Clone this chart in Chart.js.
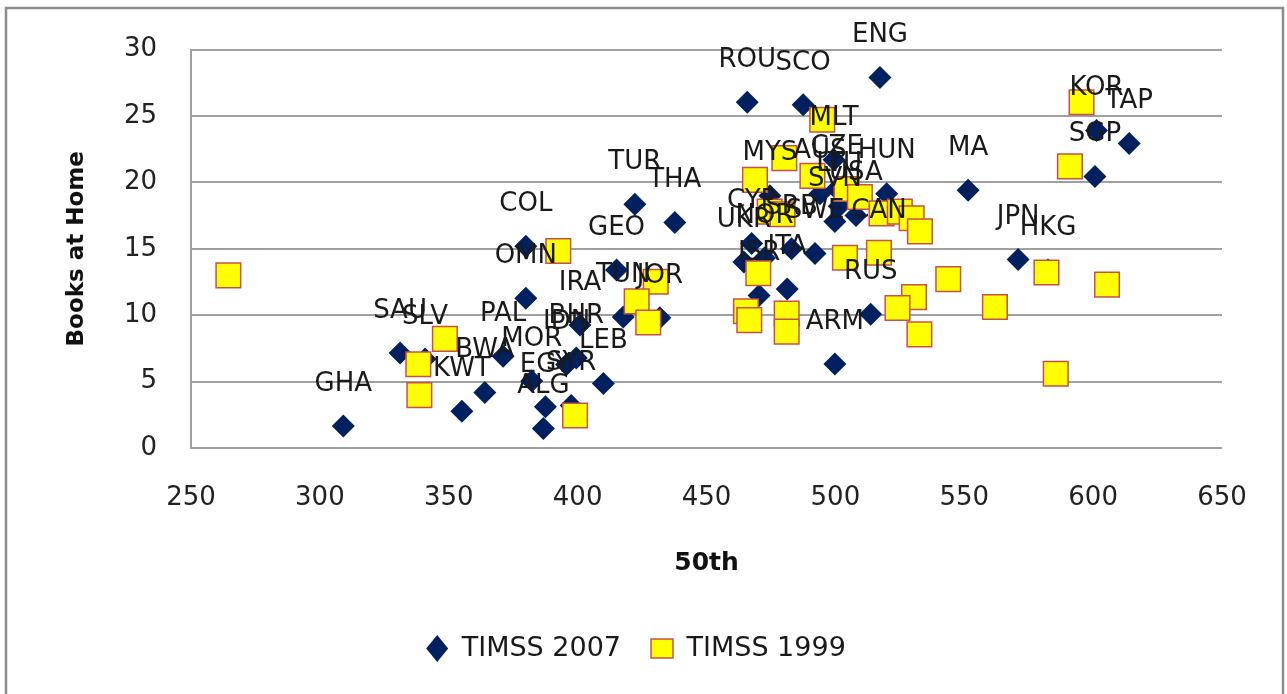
<!DOCTYPE html>
<html lang="en">

<head>
  <meta charset="UTF-8">
  <title>Books at Home vs 50th</title>
  <script src="https://cdn.jsdelivr.net/npm/chart.js@4/dist/chart.umd.min.js"></script>
  <style>
    html, body {
      margin: 0;
      padding: 0;
      background: #fff;
    }
    .plot-container {
      width: 1287px;
      height: 694px;
      position: relative;
    }
  </style>
</head>

<body>
  <div class="plot-container">
    <canvas id="plot"></canvas>
  </div>

  <script>
    // TIMSS 2007 (diamonds, labelled)
    const labels2007 = ['GHA', 'SAU', 'SLV', 'KWT', 'BWA', 'PAL', 'MOR', 'ALG', 'EGY', 'SYR',
      'IDN', 'BHR', 'IRA', 'LEB', 'COL', 'OMN', 'GEO', 'TUN', 'JOR', 'TUR',
      'THA', 'ROU', 'SCO', 'ENG', 'MLT', 'MYS', 'AUS', 'CZE', 'HUN', 'LTU',
      'USA', 'SVN', 'UKR', 'NOR', 'CYP', 'SRB', 'SWE', 'CAN', 'ISR', 'ITA',
      'ARM', 'RUS', 'JPN', 'HKG', 'MA', 'SGP', 'KOR', 'TAP'];
    const x2007 = [309.1, 331.1, 340.8, 355.1, 364.0, 371.1, 382.2, 386.7, 387.5, 397.5,
      395.7, 399.5, 400.9, 410.0, 379.9, 379.9, 415.1, 417.7, 431.9, 422.2,
      437.7, 465.8, 487.5, 517.3, 499.5, 474.6, 494.0, 500.5, 519.9, 501.5,
      508.0, 499.8, 464.5, 472.5, 467.5, 483.0, 492.1, 516.9, 470.4, 481.3,
      499.8, 513.7, 570.9, 582.5, 551.5, 600.7, 601.3, 614.0];
    const y2007 = [1.66, 7.15, 6.7, 2.77, 4.18, 6.90, 5.05, 1.46, 3.1, 3.2,
      6.29, 6.78, 9.26, 4.85, 15.2, 11.28, 13.41, 9.87, 9.80, 18.36,
      16.98, 26.04, 25.84, 27.9, 21.7, 19.0, 19.15, 19.5, 19.15, 18.2,
      17.5, 17.05, 14.0, 14.3, 15.4, 15.0, 14.65, 14.7, 11.48, 11.97,
      6.33, 10.07, 14.2, 13.4, 19.4, 20.44, 23.9, 22.92];

    // TIMSS 1999 (squares)
    const x1999 = [264.5, 348.5, 338.2, 338.6, 392.5, 399.0, 430.3, 422.9, 427.4, 465.3,
      466.6, 470.1, 481.1, 481.1, 480.2, 468.8, 491.1, 494.9, 504.3, 509.5,
      517.9, 525.0, 529.6, 532.8, 474.5, 479.5, 503.7, 516.9, 543.8, 530.5,
      524.1, 532.6, 561.9, 581.9, 605.4, 585.5, 591.0, 595.5];
    const y1999 = [13.0, 8.22, 6.31, 3.98, 14.83, 2.45, 12.52, 11.04, 9.45, 10.3,
      9.63, 13.16, 10.12, 8.76, 21.83, 20.19, 20.49, 24.72, 19.5, 18.9,
      17.67, 17.8, 17.3, 16.31, 17.8, 17.6, 14.33, 14.7, 12.72, 11.36,
      10.54, 8.56, 10.62, 13.21, 12.3, 5.59, 21.21, 26.04];

    const FONT = '"DejaVu Sans", sans-serif';

    const frame = {
      id: 'frame',
      beforeDraw(chart) {
        const ctx = chart.ctx;
        ctx.save();
        ctx.fillStyle = '#fff';
        ctx.fillRect(0, 0, chart.width, chart.height);
        ctx.strokeStyle = '#8c8c8c';
        ctx.lineWidth = 2.5;
        ctx.strokeRect(6, 8, 1277, 700);
        ctx.restore();
      }
    };

    const pointLabels = {
      id: 'pointLabels',
      afterDatasetsDraw(chart) {
        const meta = chart.getDatasetMeta(0);
        const ctx = chart.ctx;
        ctx.save();
        ctx.font = '26px ' + FONT;
        ctx.fillStyle = '#1a1a1a';
        ctx.textAlign = 'center';
        ctx.textBaseline = 'middle';
        meta.data.forEach((pt, i) => {
          ctx.fillText(labels2007[i], pt.x, pt.y - 42);
        });
        ctx.restore();
      }
    };

    const data = {
      datasets: [{
        label: 'TIMSS 2007',
        data: x2007.map((x, i) => ({ x, y: y2007[i] })),
        pointStyle: 'rectRot',
        radius: 11.5,
        backgroundColor: '#002060',
        borderColor: '#002060',
        borderWidth: 0,
        order: 1
      }, {
        label: 'TIMSS 1999',
        data: x1999.map((x, i) => ({ x, y: y1999[i] })),
        pointStyle: 'rect',
        radius: 17.4,
        backgroundColor: '#ffff00',
        borderColor: '#c8504a',
        borderWidth: 1.5,
        order: 0
      }]
    };

    const config = {
      type: 'scatter',
      data,
      options: {
        responsive: true,
        maintainAspectRatio: false,
        animation: false,
        layout: {
          padding: { left: 50, right: 65, top: 44, bottom: 22 }
        },
        plugins: {
          tooltip: { enabled: false },
          legend: {
            position: 'bottom',
            labels: {
              usePointStyle: true,
              boxWidth: 22,
              boxHeight: 19,
              pointStyleWidth: 22,
              padding: 30,
              color: '#1a1a1a',
              font: { family: FONT, size: 27 },
              sort: (a, b) => a.datasetIndex - b.datasetIndex
            }
          }
        },
        scales: {
          x: {
            type: 'linear',
            min: 250,
            max: 650,
            afterFit: (s) => { s.height = 157; },
            grid: { display: false, drawTicks: false },
            border: { display: false },
            ticks: {
              stepSize: 50,
              padding: 35,
              color: '#222',
              font: { family: FONT, size: 26 }
            },
            title: {
              display: true,
              text: '50th',
              color: '#111',
              padding: { top: 0, bottom: 27 },
              font: { family: FONT, size: 25, weight: 'bold' }
            }
          },
          y: {
            min: 0,
            max: 30,
            afterFit: (s) => { s.width = 141; },
            grid: { color: '#a0a0a0', lineWidth: 2, drawTicks: false },
            border: { display: true, color: '#a0a0a0', width: 2 },
            ticks: {
              stepSize: 5,
              padding: 34,
              color: '#222',
              font: { family: FONT, size: 26 }
            },
            title: {
              display: true,
              text: 'Books at Home',
              color: '#111',
              padding: { top: 13, bottom: 0 },
              font: { family: FONT, size: 23, weight: 'bold' }
            }
          }
        }
      },
      plugins: [frame, pointLabels]
    };

    const plot = new Chart(
      document.getElementById('plot'),
      config
    );
  </script>
</body>

</html>
